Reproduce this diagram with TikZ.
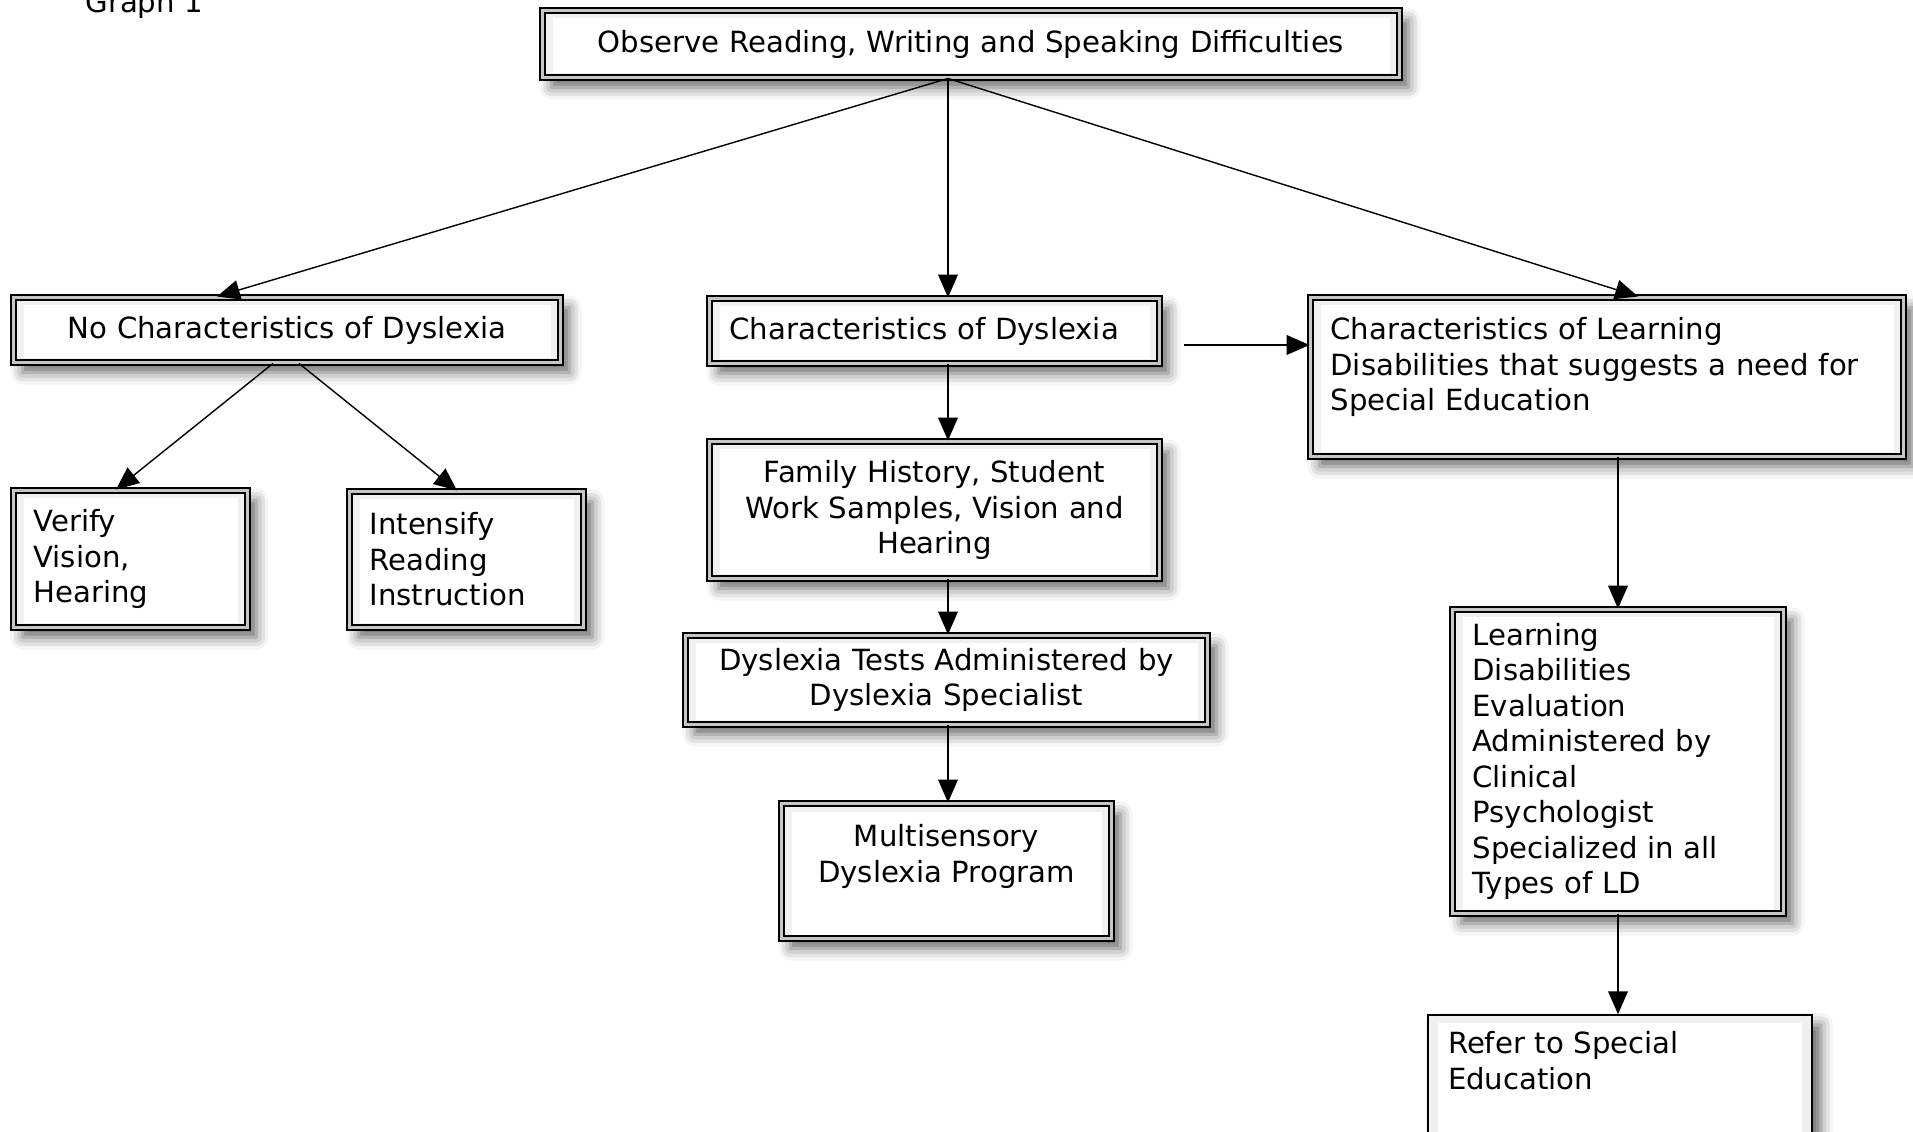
\documentclass[tikz,border=0pt]{standalone}
\usepackage{fontspec}
\setmainfont{DejaVu Sans}
\usepackage{tikz}
\usetikzlibrary{arrows.meta,positioning,calc,shadows.blur}

\tikzset{
  box/.style={draw=black, line width=0.45pt, fill=gray!12, inner xsep=0.2cm, inner ysep=0.1cm,
    blur shadow={shadow xshift=0.09cm, shadow yshift=-0.1cm, shadow blur radius=0.12cm, shadow opacity=60},
    path picture={\fill[white] ([shift={(0.1,-0.08)}]path picture bounding box.north west)
      rectangle ([shift={(-0.1,0.04)}]path picture bounding box.south east);}},
  dbox/.style={box, line width=0.55pt, double=gray!45, double distance=0.85pt},
  arr/.style={-{Triangle[length=6.5pt,width=5.6pt]}, line width=0.4pt},
}

\begin{document}
\begin{tikzpicture}[font=\fontsize{8.3}{10.1}\selectfont]
\useasboundingbox (0,0) rectangle (19.13,-11.32);
\node[anchor=base west] (caption) at (0.73,-0.13) {Graph 1};
% boxes
\node[dbox, align=center, text width=8.17cm, minimum height=0.67cm] (observe) at (9.71,-0.44) {Observe Reading, Writing and Speaking Difficulties};
\node[dbox, align=center, text width=5.07cm, minimum height=0.65cm] (nochar) at (2.87,-3.30) {No Characteristics of Dyslexia};
\node[dbox, align=left, text width=4.10cm, minimum height=0.65cm] (dyschar) at (9.345,-3.31) {Characteristics of Dyslexia};
\node[dbox, align=left, text width=5.53cm, minimum height=1.59cm] (ldchar) at (16.07,-3.77) {Characteristics of Learning\\Disabilities that suggests a need for\\Special Education\\[-0.1cm] \mbox{}};
\node[dbox, align=left, text width=1.94cm, minimum height=1.37cm] (verify) at (1.305,-5.59) {Verify\\Vision,\\Hearing};
\node[dbox, align=left, text width=1.94cm, minimum height=1.36cm] (intensify) at (4.665,-5.595) {Intensify\\Reading\\Instruction};
\node[dbox, align=center, text width=4.10cm, minimum height=1.37cm] (history) at (9.345,-5.10) {Family History, Student\\Work Samples, Vision and\\Hearing};
\node[dbox, align=center, text width=4.82cm, minimum height=0.89cm] (tests) at (9.465,-6.80) {Dyslexia Tests Administered by\\Dyslexia Specialist};
\node[dbox, align=center, text width=2.90cm, minimum height=1.35cm] (program) at (9.465,-8.71) {Multisensory\\Dyslexia Program\\ \mbox{}};
\node[dbox, align=left, text width=2.91cm, minimum height=3.04cm] (ldeval) at (16.18,-7.615) {Learning\\Disabilities\\Evaluation\\Administered by\\Clinical\\Psychologist\\Specialized in all\\Types of LD};
\node[box, align=left, text width=3.44cm, minimum height=1.62cm] (refer) at (16.20,-10.96) {Refer to Special\\Education\\ \mbox{}\\ \mbox{}};
% arrows
\coordinate (fork) at ([xshift=-0.23cm]observe.south);
\draw[arr] (fork) -- ([xshift=-0.7cm]nochar.north);
\draw[arr] (fork) -- (fork |- dyschar.north);
\draw[arr] (fork) -- ([xshift=0.31cm]ldchar.north);
\coordinate (side) at ([xshift=0.24cm,yshift=-0.14cm]dyschar.east);
\draw[arr] (side) -- (side -| ldchar.west);
\draw[arr] ([xshift=-0.14cm]nochar.south) -- ([xshift=-0.145cm]verify.north);
\draw[arr] ([xshift=0.12cm]nochar.south) -- ([xshift=-0.095cm]intensify.north);
\draw[arr] (fork |- dyschar.south) -- (fork |- history.north);
\draw[arr] (fork |- history.south) -- (fork |- tests.north);
\draw[arr] (fork |- tests.south) -- (fork |- program.north);
\draw[arr] (ldeval.north |- ldchar.south) -- (ldeval.north);
\draw[arr] (ldeval.south) -- (ldeval.south |- refer.north);
\end{tikzpicture}
\end{document}
